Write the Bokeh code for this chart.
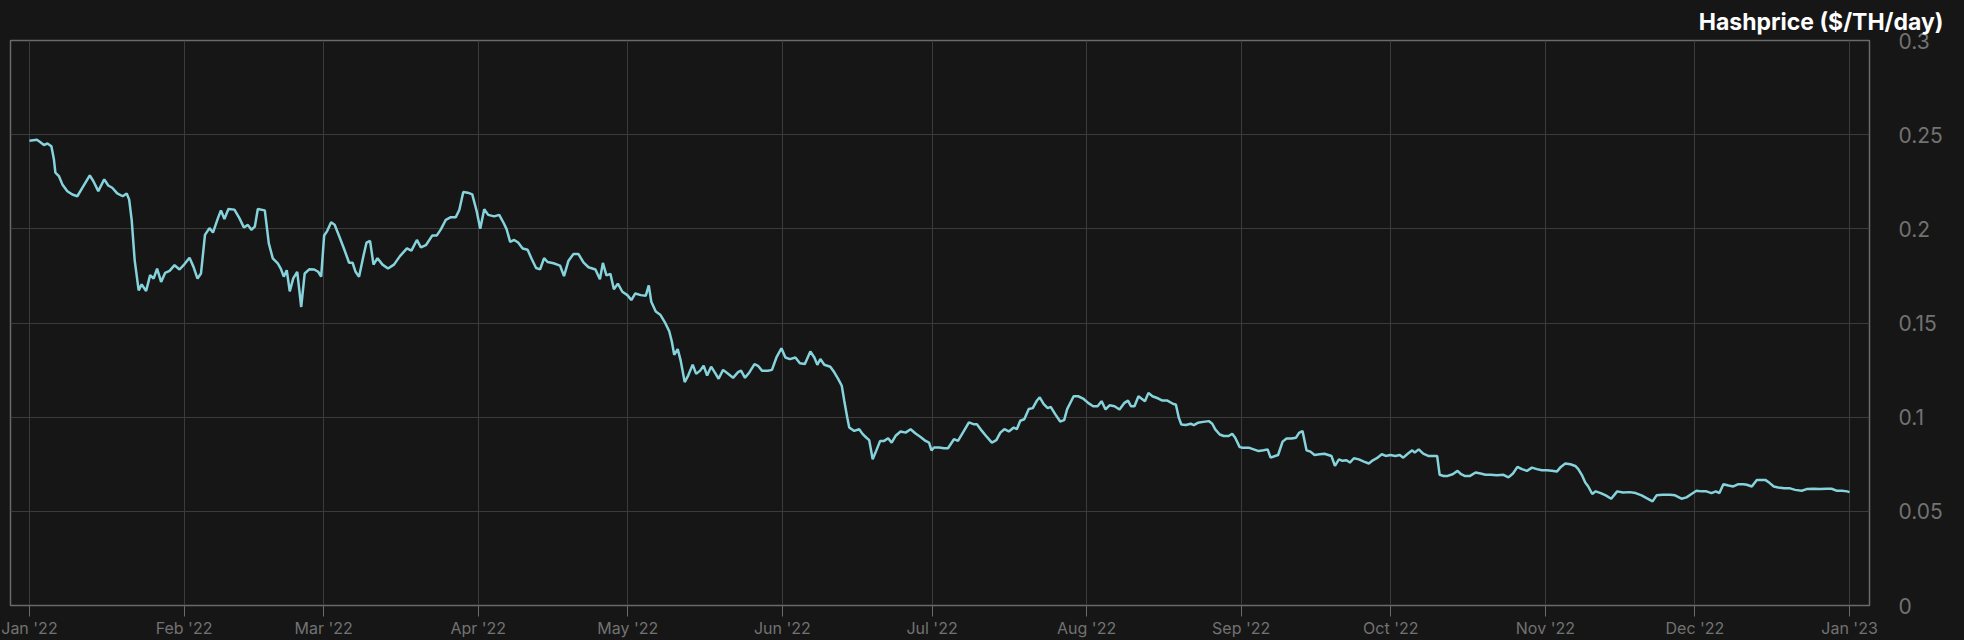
import pandas as pd
from bokeh.plotting import figure
from bokeh.models import Range1d, FixedTicker
from bokeh.embed import file_html
from bokeh.resources import INLINE

# ---------------- data ----------------
start_date = "2022-01-01"
day_offsets = [
    0, 1.5, 2.2, 2.9, 3.6, 4.4, 4.9, 5.2, 5.9, 6.6, 7.6, 8.6, 9.6, 10.6, 12.1, 12.8, 13.8, 15.0, 15.8, 16.6,
    17.6, 18.7, 19.5, 20.0, 20.5, 21.1, 21.9, 22.5, 23.4, 24.2, 24.9, 25.6, 26.4, 27.2, 28.1, 29.1, 30.1, 31.1,
    32.1, 32.9, 33.7, 34.4, 35.2, 36.1, 36.8, 37.8, 38.4, 39.1, 39.9, 41.1, 42.1, 43.0, 43.8, 44.5, 45.2, 45.8,
    47.2, 48.0, 48.8, 49.8,
    50.4, 51.0, 51.6, 52.2, 52.9, 53.7, 54.5, 55.2, 56.1, 57.1, 57.9, 58.5, 59.1, 59.7, 60.5, 61.2, 62.1, 63.1,
    64.1, 64.8, 65.4, 66.1, 67.0, 67.6, 68.3, 69.0, 69.8, 70.8, 71.9, 73.1, 74.3, 75.7, 76.6, 77.7, 78.5, 79.5,
    80.8, 81.7, 82.5, 83.5, 84.5, 85.5, 86.2, 87.0, 87.9, 88.8, 89.7, 90.4, 91.2, 92.0, 93.2, 94.2, 95.1, 95.7,
    96.4, 97.2, 98.0, 98.9, 99.9, 100.7, 101.6, 102.4, 103.2, 103.9,
    105.1, 106.4, 107.2, 108.1, 109.1, 110.1, 111.1, 112.1, 113.5, 114.4, 115.0, 115.7, 116.5, 117.2, 118.0,
    118.9, 119.9, 120.7, 121.5, 122.6, 123.6, 124.2, 124.7, 125.6, 126.5, 127.4, 128.3, 128.8, 129.3, 130.0,
    130.6, 131.4, 132.1, 133.0, 133.7, 134.5, 135.2, 135.9, 136.7, 137.4, 138.2, 139.1, 140.1, 141.1, 142.1,
    142.7, 143.5, 144.4, 145.4, 146.1, 146.9, 148.1, 148.9, 149.8, 150.8, 151.6, 152.5, 153.6, 154.5, 155.5,
    156.6, 157.4, 158.0, 158.6, 159.4, 160.6, 161.4, 162.2, 162.9, 163.4, 164.0, 164.4, 165.4, 166.4, 167.1,
    167.8, 168.4, 169.1, 169.8, 170.6, 171.4, 172.2, 172.9, 173.7, 174.7, 175.7, 176.7, 177.7, 178.7, 179.7,
    180.4, 180.9, 181.4, 182.4, 183.4, 184.2, 185.4, 186.2, 187.4, 188.4, 189.3, 190.0, 191.0, 192.0, 193.0,
    193.9, 194.7, 195.5, 196.4, 197.4, 198.0, 198.7, 199.5, 200.4, 201.2, 202.0, 202.6, 203.4, 204.2, 204.8,
    205.7, 206.7, 207.5, 208.1,
    209.4, 210.3, 211.3, 212.3, 213.3, 214.2, 215.0, 215.8, 216.6, 217.6, 218.6, 219.6, 220.3, 220.9, 221.6,
    222.4, 223.3, 223.7, 224.4, 225.2, 226.4, 227.2, 228.2, 229.4, 229.9, 230.5, 231.0, 231.9, 232.9, 233.5,
    234.3, 235.4, 236.5, 237.2, 237.8, 238.7, 239.5, 240.5, 241.2, 241.8, 242.7, 243.3, 244.5, 245.5, 246.5,
    247.5, 248.3, 248.9, 249.8, 250.4, 251.3, 252.1, 253.1, 254.0, 254.6, 255.3, 256.1, 256.9, 257.7, 258.7,
    259.7,
    261.1, 261.8, 262.6, 263.3, 264.1, 264.8, 265.6, 266.6, 267.6, 268.6, 269.4, 270.2, 271.2, 272.0, 272.9,
    273.9, 274.8, 275.5, 276.4, 277.3, 277.8, 278.6, 279.5, 280.5, 281.4, 282.3, 282.8, 283.6, 284.4, 285.4,
    286.4, 287.1, 287.8, 288.9, 290.0, 291.0, 292.0, 293.0, 294.3, 295.6, 296.6, 297.5, 298.4, 299.3, 300.3,
    301.3, 302.3, 303.3, 304.3, 305.3, 306.3, 307.1, 308.0, 309.0, 310.0, 310.6, 311.3, 312.0,
    312.6, 313.4, 314.1, 315.1, 316.1, 317.2, 318.4, 319.6, 320.9, 322.1, 323.3, 324.3, 325.5, 326.3, 327.5,
    329.0, 330.0, 331.3, 332.3, 333.3, 334.3, 335.3, 336.3, 337.3, 338.2, 338.9, 339.7, 340.7, 341.7, 342.7,
    343.7, 344.4, 345.4, 346.4, 347.4, 348.1, 349.0, 349.8, 350.7, 351.9, 352.9, 354.1, 355.4, 356.4, 357.8,
    359.1, 360.4, 361.4, 362.5, 363.5, 364.5, 365.0,
]
hashprice = [
    0.2468, 0.2473, 0.2460, 0.2445, 0.2453, 0.2438, 0.2370, 0.2298, 0.2280, 0.2236, 0.2200, 0.2182, 0.2173,
    0.2218, 0.2284, 0.2254, 0.2200, 0.2263, 0.2230, 0.2218, 0.2188, 0.2173, 0.2188, 0.2155, 0.2048, 0.1834,
    0.1673, 0.1705, 0.1670, 0.1754, 0.1736, 0.1789, 0.1718, 0.1766, 0.1777, 0.1807, 0.1784, 0.1813, 0.1846,
    0.1798, 0.1736, 0.1763, 0.1968, 0.2004, 0.1980, 0.2057, 0.2098, 0.2052, 0.2105, 0.2102, 0.2057, 0.2007,
    0.2021, 0.1995, 0.2012, 0.2105, 0.2098, 0.1923, 0.1843, 0.1816,
    0.1789, 0.1746, 0.1780, 0.1668, 0.1737, 0.1772, 0.1585, 0.1763, 0.1785, 0.1784, 0.1772, 0.1746, 0.1965,
    0.1988, 0.2035, 0.2022, 0.1962, 0.1893, 0.1820, 0.1820, 0.1772, 0.1746, 0.1858, 0.1927, 0.1936, 0.1810,
    0.1844, 0.1810, 0.1789, 0.1810, 0.1855, 0.1896, 0.1884, 0.1941, 0.1901, 0.1913, 0.1965, 0.1965, 0.1997,
    0.2048, 0.2062, 0.2062, 0.2100, 0.2196, 0.2192, 0.2183, 0.2092, 0.2000, 0.2104, 0.2074, 0.2066, 0.2074,
    0.2031, 0.1997, 0.1931, 0.1941, 0.1927, 0.1896, 0.1889, 0.1841, 0.1792, 0.1785, 0.1844, 0.1824,
    0.1817, 0.1805, 0.1749, 0.1831, 0.1866, 0.1866, 0.1822, 0.1796, 0.1784, 0.1732, 0.1819, 0.1753, 0.1761,
    0.1679, 0.1709, 0.1666, 0.1648, 0.1622, 0.1657, 0.1648, 0.1645, 0.1700, 0.1613, 0.1561, 0.1544, 0.1505,
    0.1456, 0.1404, 0.1331, 0.1361, 0.1300, 0.1186, 0.1221, 0.1279, 0.1230, 0.1247, 0.1273, 0.1221, 0.1268,
    0.1239, 0.1204, 0.1251, 0.1230, 0.1209, 0.1239, 0.1247, 0.1209, 0.1239, 0.1282, 0.1273, 0.1247, 0.1247,
    0.1251, 0.1317, 0.1366, 0.1317, 0.1308, 0.1317, 0.1286, 0.1282,
    0.1349, 0.1317, 0.1278, 0.1309, 0.1278, 0.1268, 0.1238, 0.1202, 0.1167, 0.1087, 0.0998, 0.0945, 0.0927,
    0.0936, 0.0910, 0.0892, 0.0878, 0.0777, 0.0821, 0.0874, 0.0874, 0.0888, 0.0865, 0.0901, 0.0924, 0.0918,
    0.0936, 0.0913, 0.0895, 0.0874, 0.0865, 0.0824, 0.0839, 0.0839, 0.0835, 0.0835, 0.0883, 0.0874, 0.0927,
    0.0972, 0.0963, 0.0963, 0.0927, 0.0895, 0.0865, 0.0878, 0.0918, 0.0936, 0.0924, 0.0945, 0.0936, 0.0981,
    0.0989, 0.1043, 0.1048, 0.1087, 0.1105, 0.1069, 0.1048, 0.1055, 0.1016, 0.0977, 0.0984, 0.1043,
    0.1111, 0.1111, 0.1099, 0.1076, 0.1058, 0.1058, 0.1085, 0.1041, 0.1063, 0.1058, 0.1041, 0.1076, 0.1088,
    0.1058, 0.1058, 0.1111, 0.1093, 0.1085, 0.1129, 0.1111, 0.1099, 0.1088, 0.1088, 0.1070, 0.1067, 0.0996,
    0.0961, 0.0958, 0.0965, 0.0958, 0.0970, 0.0975, 0.0979, 0.0965, 0.0935, 0.0908, 0.0900, 0.0900, 0.0912,
    0.0891, 0.0841, 0.0838, 0.0838, 0.0829, 0.0820, 0.0824, 0.0829, 0.0785, 0.0794, 0.0799, 0.0870, 0.0887,
    0.0887, 0.0891, 0.0917, 0.0926, 0.0824, 0.0817, 0.0799, 0.0803, 0.0806,
    0.0794, 0.0741, 0.0776, 0.0768, 0.0771, 0.0759, 0.0782, 0.0776, 0.0764, 0.0754, 0.0771, 0.0782, 0.0803,
    0.0794, 0.0799, 0.0794, 0.0799, 0.0785, 0.0806, 0.0824, 0.0812, 0.0829, 0.0806, 0.0794, 0.0794, 0.0794,
    0.0694, 0.0688, 0.0688, 0.0697, 0.0715, 0.0697, 0.0688, 0.0688, 0.0706, 0.0701, 0.0694, 0.0694, 0.0692,
    0.0694, 0.0680, 0.0701, 0.0736, 0.0724, 0.0715, 0.0732, 0.0724, 0.0718, 0.0718, 0.0715, 0.0711, 0.0736,
    0.0754, 0.0750, 0.0741, 0.0724, 0.0694, 0.0653,
    0.0632, 0.0592, 0.0606, 0.0597, 0.0585, 0.0567, 0.0606, 0.0600, 0.0602, 0.0597, 0.0585, 0.0570, 0.0553,
    0.0585, 0.0588, 0.0588, 0.0585, 0.0567, 0.0574, 0.0592, 0.0609, 0.0606, 0.0606, 0.0597, 0.0606, 0.0597,
    0.0644, 0.0637, 0.0632, 0.0644, 0.0644, 0.0641, 0.0632, 0.0667, 0.0667, 0.0667, 0.0650, 0.0632, 0.0627,
    0.0623, 0.0623, 0.0614, 0.0609, 0.0618, 0.0620, 0.0618, 0.0620, 0.0620, 0.0609, 0.0609, 0.0606, 0.0602,
]
month_starts = ["2022-01-01", "2022-02-01", "2022-03-01", "2022-04-01", "2022-05-01", "2022-06-01",
                "2022-07-01", "2022-08-01", "2022-09-01", "2022-10-01", "2022-11-01", "2022-12-01",
                "2023-01-01"]
month_labels = ["Jan '22", "Feb '22", "Mar '22", "Apr '22", "May '22", "Jun '22", "Jul '22",
                "Aug '22", "Sep '22", "Oct '22", "Nov '22", "Dec '22", "Jan '23"]
y_ticks = [0, 0.05, 0.1, 0.15, 0.2, 0.25, 0.3]
y_tick_labels = ["0", "0.05", "0.1", "0.15", "0.2", "0.25", "0.3"]
title_text = "Hashprice ($/TH/day)"

# ---------------- style ----------------
BG = "#161616"
GRID = "#3b3b3b"
FRAME = "#6a6a6a"
LABEL = "#727272"
LINE = "#86d3dc"
FONT = "Inter"

dates = pd.Timestamp(start_date) + pd.to_timedelta(day_offsets, unit="D")
month_ms = [pd.Timestamp(m).value / 1e6 for m in month_starts]
x_start = pd.Timestamp(month_starts[0]) - pd.Timedelta(days=3.8)
x_end = pd.Timestamp(month_starts[-1]) + pd.Timedelta(days=4.0)

p = figure(
    width=1964, height=640,
    x_axis_type="datetime", y_axis_location="right",
    x_range=Range1d(x_start, x_end), y_range=Range1d(0, 0.3),
    output_backend="svg", toolbar_location=None, tools="",
    min_border_left=10, min_border_right=95, min_border_top=40, min_border_bottom=32,
    background_fill_color=BG, border_fill_color=BG,
    outline_line_color=FRAME, outline_line_width=1.5,
)

# title, right-aligned past the frame edge
p.title.text = title_text
p.title.align = "right"
p.title.offset = -74
p.title.text_font = FONT
p.title.text_font_size = "23px"
p.title.text_font_style = "bold"
p.title.text_color = "#ffffff"
p.title.standoff = 10

# x axis: month ticks and labels
p.xaxis.ticker = FixedTicker(ticks=month_ms)
p.xaxis.major_label_overrides = {ms: lab for ms, lab in zip(month_ms, month_labels)}
p.xaxis.major_label_standoff = 1
p.xaxis.major_label_text_font = FONT
p.xaxis.major_label_text_font_size = "16px"
p.xaxis.major_label_text_color = LABEL
p.xaxis.axis_line_color = None
p.xaxis.major_tick_in = 0
p.xaxis.major_tick_out = 11
p.xaxis.major_tick_line_color = FRAME
p.xaxis.minor_tick_line_color = None

# y axis on the right
p.yaxis.ticker = FixedTicker(ticks=y_ticks)
p.yaxis.major_label_overrides = {float(t): s for t, s in zip(y_ticks, y_tick_labels)}
p.yaxis.axis_line_color = None
p.yaxis.major_tick_line_color = None
p.yaxis.minor_tick_line_color = None
p.yaxis.major_tick_out = 0
p.yaxis.major_tick_in = 0
p.yaxis.major_label_standoff = 29
p.yaxis.major_label_text_font = FONT
p.yaxis.major_label_text_font_size = "21px"
p.yaxis.major_label_text_color = LABEL

p.xgrid.grid_line_color = GRID
p.ygrid.grid_line_color = GRID

p.line(x=dates, y=hashprice, line_color=LINE, line_width=2.5)

html = file_html(p, INLINE)
html = html.replace("</head>", "<style>html,body{background:%s;}</style></head>" % BG, 1)
open("out.html", "w").write(html)
